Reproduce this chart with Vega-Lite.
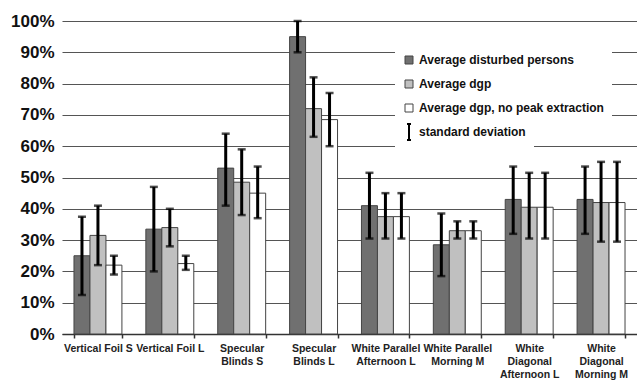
{
  "$schema": "https://vega.github.io/schema/vega-lite/v6.json",
  "width": 575,
  "height": 313,
  "autosize": {"type": "none"},
  "padding": {"left": 62, "top": 21, "right": 0, "bottom": 48},
  "background": "#ffffff",
  "config": {
    "font": "Liberation Sans",
    "view": {"stroke": null},
    "axisY": {
      "title": null,
      "labelOverlap": false,
      "labelFont": "Liberation Sans",
      "labelFontWeight": "bold",
      "labelFontSize": 17,
      "labelColor": "#111111",
      "labelPadding": 8,
      "ticks": false,
      "domain": false,
      "grid": true,
      "gridColor": "#555555",
      "gridWidth": 1.2
    }
  },
  "data": {
    "values": [
      {"cat": "Vertical Foil S", "series": "Average disturbed persons", "v": 25, "lo": 12.5, "hi": 37.5},
      {"cat": "Vertical Foil S", "series": "Average dgp", "v": 31.5, "lo": 22, "hi": 41},
      {"cat": "Vertical Foil S", "series": "Average dgp, no peak extraction", "v": 22, "lo": 19, "hi": 25},
      {"cat": "Vertical Foil L", "series": "Average disturbed persons", "v": 33.5, "lo": 20, "hi": 47},
      {"cat": "Vertical Foil L", "series": "Average dgp", "v": 34, "lo": 28, "hi": 40},
      {"cat": "Vertical Foil L", "series": "Average dgp, no peak extraction", "v": 22.5, "lo": 20.5, "hi": 25},
      {"cat": "Specular|Blinds S", "series": "Average disturbed persons", "v": 53, "lo": 41, "hi": 64},
      {"cat": "Specular|Blinds S", "series": "Average dgp", "v": 48.5, "lo": 38, "hi": 59},
      {"cat": "Specular|Blinds S", "series": "Average dgp, no peak extraction", "v": 45, "lo": 37, "hi": 53.5},
      {"cat": "Specular|Blinds L", "series": "Average disturbed persons", "v": 95, "lo": 90, "hi": 100},
      {"cat": "Specular|Blinds L", "series": "Average dgp", "v": 72, "lo": 63, "hi": 82},
      {"cat": "Specular|Blinds L", "series": "Average dgp, no peak extraction", "v": 68.5, "lo": 60, "hi": 77},
      {"cat": "White Parallel|Afternoon L", "series": "Average disturbed persons", "v": 41, "lo": 30.5, "hi": 51.5},
      {"cat": "White Parallel|Afternoon L", "series": "Average dgp", "v": 37.5, "lo": 30.5, "hi": 45},
      {"cat": "White Parallel|Afternoon L", "series": "Average dgp, no peak extraction", "v": 37.5, "lo": 30.5, "hi": 45},
      {"cat": "White Parallel|Morning M", "series": "Average disturbed persons", "v": 28.5, "lo": 18.5, "hi": 38.5},
      {"cat": "White Parallel|Morning M", "series": "Average dgp", "v": 33, "lo": 30.5, "hi": 36},
      {"cat": "White Parallel|Morning M", "series": "Average dgp, no peak extraction", "v": 33, "lo": 30.5, "hi": 36},
      {"cat": "White|Diagonal|Afternoon L", "series": "Average disturbed persons", "v": 43, "lo": 32, "hi": 53.5},
      {"cat": "White|Diagonal|Afternoon L", "series": "Average dgp", "v": 40.5, "lo": 30.5, "hi": 51.5},
      {"cat": "White|Diagonal|Afternoon L", "series": "Average dgp, no peak extraction", "v": 40.5, "lo": 30.5, "hi": 51.5},
      {"cat": "White|Diagonal|Morning M", "series": "Average disturbed persons", "v": 43, "lo": 32, "hi": 53.5},
      {"cat": "White|Diagonal|Morning M", "series": "Average dgp", "v": 42, "lo": 29.5, "hi": 55},
      {"cat": "White|Diagonal|Morning M", "series": "Average dgp, no peak extraction", "v": 42, "lo": 29.5, "hi": 55}
    ]
  },
  "encoding": {
    "x": {
      "field": "cat",
      "type": "nominal",
      "sort": null,
      "scale": {"paddingInner": 0.333, "paddingOuter": 0.1667},
      "axis": {
        "title": null,
        "labelAngle": 0,
        "labelExpr": "split(datum.label, '|')",
        "labelFont": "Liberation Sans",
        "labelFontWeight": "bold",
        "labelFontSize": 10.5,
        "labelColor": "#222222",
        "labelLineHeight": 13,
        "labelPadding": 5,
        "labelLimit": 0,
        "tickBand": "extent",
        "tickSize": 4,
        "tickColor": "#333333",
        "tickWidth": 1.5,
        "domainColor": "#333333",
        "domainWidth": 1.5
      }
    },
    "xOffset": {"field": "series", "type": "nominal", "sort": null, "scale": {"paddingInner": 0, "paddingOuter": 0}}
  },
  "layer": [
    {
      "mark": {"type": "bar", "stroke": "#444444", "strokeWidth": 1},
      "encoding": {
        "y": {
          "field": "v",
          "type": "quantitative",
          "scale": {"domain": [0, 100], "nice": false},
          "axis": {"values": [0, 10, 20, 30, 40, 50, 60, 70, 80, 90, 100], "labelExpr": "datum.value + '%'"}
        },
        "color": {
          "field": "series",
          "type": "nominal",
          "scale": {
            "domain": ["Average disturbed persons", "Average dgp", "Average dgp, no peak extraction"],
            "range": ["#707070", "#c0c0c0", "#ffffff"]
          },
          "legend": {
            "title": null,
            "orient": "none",
            "legendX": 333,
            "legendY": 25,
            "padding": 8,
            "fillColor": "#ffffff",
            "labelFont": "Liberation Sans",
            "labelFontWeight": "bold",
            "labelFontSize": 12,
            "labelColor": "#111111",
            "labelOffset": 4,
            "labelLimit": 0,
            "rowPadding": 12,
            "symbolSize": 64,
            "symbolType": "square",
            "symbolOpacity": 1,
            "symbolStrokeColor": "#444444",
            "symbolStrokeWidth": 1
          }
        }
      }
    },
    {
      "mark": {"type": "rule", "color": "#000000", "strokeWidth": 3},
      "encoding": {
        "y": {"field": "lo", "type": "quantitative", "axis": {"values": [0, 10, 20, 30, 40, 50, 60, 70, 80, 90, 100], "labelExpr": "datum.value + '%'"}},
        "y2": {"field": "hi"}
      }
    },
    {
      "mark": {"type": "tick", "color": "#000000", "size": 8, "thickness": 2.5, "orient": "horizontal"},
      "encoding": {
        "y": {"field": "lo", "type": "quantitative", "axis": {"values": [0, 10, 20, 30, 40, 50, 60, 70, 80, 90, 100], "labelExpr": "datum.value + '%'"}}
      }
    },
    {
      "mark": {"type": "tick", "color": "#000000", "size": 8, "thickness": 2.5, "orient": "horizontal"},
      "encoding": {
        "y": {"field": "hi", "type": "quantitative", "axis": {"values": [0, 10, 20, 30, 40, 50, 60, 70, 80, 90, 100], "labelExpr": "datum.value + '%'"}}
      }
    },
    {
      "mark": {"type": "point", "filled": false, "opacity": 0, "color": "#000000", "strokeWidth": 2},
      "encoding": {
        "y": {"field": "hi", "type": "quantitative", "axis": {"values": [0, 10, 20, 30, 40, 50, 60, 70, 80, 90, 100], "labelExpr": "datum.value + '%'"}},
        "shape": {
          "datum": "standard deviation",
          "type": "nominal",
          "scale": {"range": ["M0,-2V2M-0.5,-2H0.5M-0.5,2H0.5"]},
          "legend": {
            "title": null,
            "orient": "none",
            "legendX": 333,
            "legendY": 97,
            "padding": 8,
            "fillColor": "#ffffff",
            "labelFont": "Liberation Sans",
            "labelFontWeight": "bold",
            "labelFontSize": 12,
            "labelColor": "#111111",
            "labelOffset": 4,
            "labelLimit": 0,
            "symbolSize": 64,
            "symbolOpacity": 1,
            "symbolStrokeColor": "#000000",
            "symbolFillColor": "transparent",
            "symbolStrokeWidth": 2
          }
        }
      }
    }
  ]
}
